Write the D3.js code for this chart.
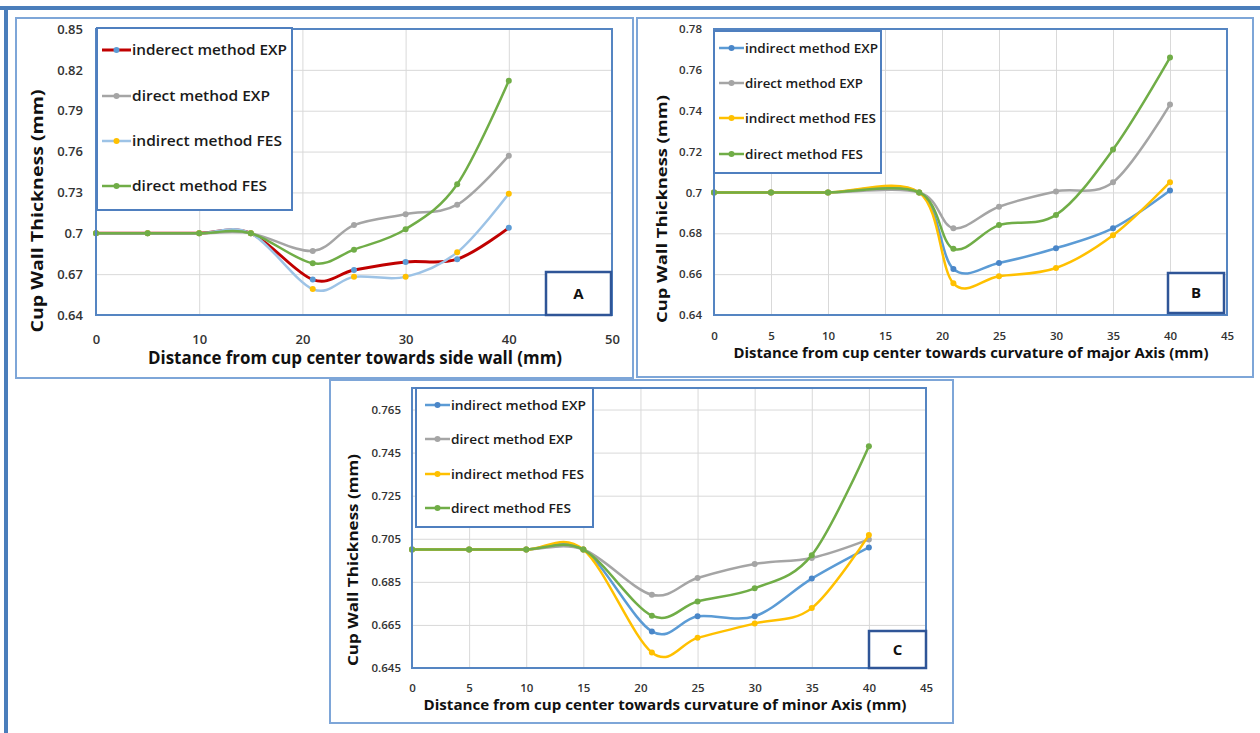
<!DOCTYPE html>
<html>
<head>
<meta charset="utf-8">
<script src="https://cdn.jsdelivr.net/npm/d3@7"></script>
<style>
  body { margin: 0; background: #fff; }
  text { font-family: "Open Sans", "Liberation Sans", sans-serif; }
</style>
</head>
<body>
<div id="chart-area"></div>
<script>
// distances from cup center (mm) where thickness was measured
const distA = [0, 5, 10, 15, 21, 25, 30, 35, 40];
const distB = [0, 5, 10, 18, 21, 25, 30, 35, 40];
const distC = [0, 5, 10, 15, 21, 25, 30, 35, 40];

const legendA = ["inderect method EXP", "direct method EXP", "indirect method FES", "direct method FES"];
const legendBC = ["indirect method EXP", "direct method EXP", "indirect method FES", "direct method FES"];

// panel A - towards side wall
const indirectExpA = [0.7, 0.7, 0.7, 0.7, 0.666, 0.673, 0.679, 0.681, 0.704];
const directExpA   = [0.7, 0.7, 0.7, 0.7, 0.687, 0.706, 0.714, 0.721, 0.757];
const indirectFesA = [0.7, 0.7, 0.7, 0.7, 0.659, 0.668, 0.668, 0.686, 0.729];
const directFesA   = [0.7, 0.7, 0.7, 0.7, 0.678, 0.688, 0.703, 0.736, 0.812];

// panel B - major axis
const indirectExpB = [0.7, 0.7, 0.7, 0.7, 0.6625, 0.6655, 0.6727, 0.6825, 0.701];
const directExpB   = [0.7, 0.7, 0.7, 0.7, 0.6825, 0.693, 0.7005, 0.705, 0.743];
const indirectFesB = [0.7, 0.7, 0.7, 0.7, 0.6555, 0.659, 0.663, 0.679, 0.705];
const directFesB   = [0.7, 0.7, 0.7, 0.7, 0.6724, 0.684, 0.689, 0.721, 0.766];

// panel C - minor axis
const indirectExpC = [0.7, 0.7, 0.7, 0.7, 0.662, 0.669, 0.669, 0.6865, 0.701];
const directExpC   = [0.7, 0.7, 0.7, 0.7, 0.679, 0.6868, 0.6933, 0.6961, 0.7047];
const indirectFesC = [0.7, 0.7, 0.7, 0.7, 0.6522, 0.659, 0.6657, 0.6728, 0.7067];
const directFesC   = [0.7, 0.7, 0.7, 0.7, 0.6693, 0.6759, 0.682, 0.6974, 0.748];

// tick labels
const xTicksA = [0, 10, 20, 30, 40, 50];
const xTicksBC = [0, 5, 10, 15, 20, 25, 30, 35, 40, 45];
const yTicksA = [0.64, 0.67, 0.7, 0.73, 0.76, 0.79, 0.82, 0.85];
const yTicksB = [0.64, 0.66, 0.68, 0.7, 0.72, 0.74, 0.76, 0.78];
const yTicksC = [0.645, 0.665, 0.685, 0.705, 0.725, 0.745, 0.765];

const svg = d3.select("#chart-area")
    .append("svg")
    .attr("width", 1260)
    .attr("height", 733);

// page frame (top and left blue rules)
svg.append("rect").attr("x", 0).attr("y", 6).attr("width", 1260).attr("height", 4).attr("fill", "#4a7ebb");
svg.append("rect").attr("x", 4).attr("y", 6).attr("width", 4).attr("height", 727).attr("fill", "#4a7ebb");

const curve = d3.curveCatmullRom.alpha(0);

function drawPanel(p) {
    const g = svg.append("g");

    g.append("rect")
        .attr("x", p.box[0]).attr("y", p.box[1])
        .attr("width", p.box[2]).attr("height", p.box[3])
        .attr("fill", "#fff").attr("stroke", "#7ea6d8").attr("stroke-width", 2);

    const x = d3.scaleLinear().domain(p.xDomain).range([p.plot.left, p.plot.right]);
    const y = d3.scaleLinear().domain(p.yDomain).range([p.plot.bottom, p.plot.top]);
    const h = p.plot.bottom - p.plot.top, w = p.plot.right - p.plot.left;

    // gridlines
    const gx = g.append("g")
        .attr("transform", "translate(0," + p.plot.bottom + ")")
        .call(d3.axisBottom(x).tickValues(p.xTicks).tickSize(-h).tickFormat(""));
    const gy = g.append("g")
        .attr("transform", "translate(" + p.plot.left + ",0)")
        .call(d3.axisLeft(y).tickValues(p.yTicks).tickSize(-w).tickFormat(""));
    [gx, gy].forEach(function(a) {
        a.select(".domain").remove();
        a.selectAll("line").attr("stroke", "#d9d9d9").attr("stroke-width", 1);
    });

    // tick labels
    const xl = g.append("g")
        .attr("transform", "translate(0," + (p.xLabelY - 0.36 * p.tickFont) + ")")
        .call(d3.axisBottom(x).tickValues(p.xTicks).tickSize(0).tickPadding(0));
    const yl = g.append("g")
        .attr("transform", "translate(" + p.yLabelRight + ",0)")
        .call(d3.axisLeft(y).tickValues(p.yTicks).tickSize(0).tickPadding(0)
            .tickFormat(function(d) { return String(d); }));
    [xl, yl].forEach(function(a) {
        a.select(".domain").remove();
        a.selectAll("text")
            .attr("font-family", "'Open Sans', sans-serif")
            .attr("font-size", p.tickFont)
            .attr("font-weight", 600)
            .attr("fill", "#333");
    });

    // series
    const line = d3.line()
        .x(function(d) { return x(d[0]); })
        .y(function(d) { return y(d[1]); })
        .curve(curve);

    p.series.forEach(function(s) {
        const pts = p.dist.map(function(d, i) { return [d, s.values[i]]; });
        g.append("path")
            .datum(pts)
            .attr("d", line)
            .attr("fill", "none")
            .attr("stroke", s.line)
            .attr("stroke-width", s.width)
            .attr("stroke-linejoin", "round");
        g.selectAll(null)
            .data(pts)
            .enter()
            .append("circle")
            .attr("cx", function(d) { return x(d[0]); })
            .attr("cy", function(d) { return y(d[1]); })
            .attr("r", 3)
            .attr("fill", s.marker);
    });

    // plot border
    g.append("rect")
        .attr("x", p.plot.left).attr("y", p.plot.top)
        .attr("width", w).attr("height", h)
        .attr("fill", "none").attr("stroke", "#5585c2").attr("stroke-width", 2);

    // legend
    const L = p.legend;
    g.append("rect")
        .attr("x", L.x).attr("y", L.y).attr("width", L.w).attr("height", L.h)
        .attr("fill", "#fff").attr("stroke", "#4f7fbf").attr("stroke-width", 2);
    p.series.forEach(function(s, i) {
        const ly = L.rows[i];
        g.append("line")
            .attr("x1", L.lineX0).attr("x2", L.lineX1)
            .attr("y1", ly).attr("y2", ly)
            .attr("stroke", s.line).attr("stroke-width", s.width);
        g.append("circle")
            .attr("cx", (L.lineX0 + L.lineX1) / 2).attr("cy", ly)
            .attr("r", 3).attr("fill", s.marker);
        g.append("text")
            .attr("x", L.lineX1 + 1).attr("y", ly).attr("dy", "0.35em")
            .attr("font-size", L.font).attr("font-weight", 600)
            .attr("textLength", L.textW[i]).attr("lengthAdjust", "spacingAndGlyphs")
            .attr("fill", "#1a1a1a")
            .text(s.name);
    });

    // panel letter
    const T = p.tag;
    g.append("rect")
        .attr("x", T.x).attr("y", T.y).attr("width", T.w).attr("height", T.h)
        .attr("fill", "#fff").attr("stroke", "#2f5597").attr("stroke-width", 2.5);
    g.append("text")
        .attr("x", T.x + T.w / 2).attr("y", T.y + T.h / 2).attr("dy", "0.35em")
        .attr("text-anchor", "middle").attr("font-size", 15).attr("font-weight", "bold")
        .attr("fill", "#111")
        .text(T.label);

    // axis titles
    g.append("text")
        .attr("transform", "translate(" + p.yTitle.x + "," + p.yTitle.y + ") rotate(-90)")
        .attr("dy", "0.35em")
        .attr("text-anchor", "middle")
        .attr("font-size", p.yTitle.font).attr("font-weight", "bold")
        .attr("textLength", p.yTitle.len).attr("lengthAdjust", "spacingAndGlyphs")
        .attr("fill", "#111")
        .text(p.yTitle.text);
    g.append("text")
        .attr("x", p.xTitle.x).attr("y", p.xTitle.y).attr("dy", "0.35em")
        .attr("text-anchor", "middle")
        .attr("font-size", p.xTitle.font).attr("font-weight", "bold")
        .attr("textLength", p.xTitle.len).attr("lengthAdjust", "spacingAndGlyphs")
        .attr("fill", "#111")
        .text(p.xTitle.text);
}

// Panel A
drawPanel({
    box: [16, 18, 617, 360],
    plot: { left: 96, right: 612, top: 29, bottom: 315 },
    xDomain: [0, 50], yDomain: [0.64, 0.85],
    xTicks: xTicksA, yTicks: yTicksA,
    xLabelY: 339, yLabelRight: 83, tickFont: 13,
    dist: distA,
    series: [
        { name: legendA[0], values: indirectExpA, line: "#c00000", marker: "#5b9bd5", width: 3 },
        { name: legendA[1], values: directExpA, line: "#a5a5a5", marker: "#a5a5a5", width: 2.5 },
        { name: legendA[2], values: indirectFesA, line: "#9dc3e6", marker: "#ffc000", width: 2.5 },
        { name: legendA[3], values: directFesA, line: "#70ad47", marker: "#70ad47", width: 2.5 }
    ],
    legend: { x: 97, y: 28, w: 195, h: 182, rows: [50, 96, 141, 186],
              lineX0: 102, lineX1: 131, font: 15, textW: [155, 138, 150, 135] },
    tag: { x: 546, y: 272, w: 65, h: 43, label: "A" },
    yTitle: { x: 37, y: 211, font: 16, len: 243, text: "Cup Wall  Thickness (mm)" },
    xTitle: { x: 355, y: 358, font: 17, len: 414, text: "Distance from cup center towards side wall (mm)" }
});

// Panel B
drawPanel({
    box: [637, 18, 616, 359],
    plot: { left: 714, right: 1227, top: 29, bottom: 315 },
    xDomain: [0, 45], yDomain: [0.64, 0.78],
    xTicks: xTicksBC, yTicks: yTicksB,
    xLabelY: 336, yLabelRight: 702, tickFont: 11.5,
    dist: distB,
    series: [
        { name: legendBC[0], values: indirectExpB, line: "#5b9bd5", marker: "#4a86c8", width: 2.5 },
        { name: legendBC[1], values: directExpB, line: "#a5a5a5", marker: "#a5a5a5", width: 2.5 },
        { name: legendBC[2], values: indirectFesB, line: "#ffc000", marker: "#ffc000", width: 2.5 },
        { name: legendBC[3], values: directFesB, line: "#70ad47", marker: "#70ad47", width: 2.5 }
    ],
    legend: { x: 714, y: 31, w: 167, h: 142, rows: [48, 83, 118, 154],
              lineX0: 719, lineX1: 744, font: 13, textW: [133, 118, 131, 118] },
    tag: { x: 1168, y: 273, w: 56, h: 40, label: "B" },
    yTitle: { x: 662, y: 209, font: 15, len: 228, text: "Cup Wall  Thickness (mm)" },
    xTitle: { x: 971, y: 353, font: 14.5, len: 475, text: "Distance from cup center towards curvature of major Axis (mm)" }
});

// Panel C
drawPanel({
    box: [330, 380, 623, 343],
    plot: { left: 412, right: 926, top: 388, bottom: 668 },
    xDomain: [0, 45], yDomain: [0.645, 0.775],
    xTicks: xTicksBC, yTicks: yTicksC,
    xLabelY: 688, yLabelRight: 401, tickFont: 11.5,
    dist: distC,
    series: [
        { name: legendBC[0], values: indirectExpC, line: "#5b9bd5", marker: "#4a86c8", width: 2.5 },
        { name: legendBC[1], values: directExpC, line: "#a5a5a5", marker: "#a5a5a5", width: 2.5 },
        { name: legendBC[2], values: indirectFesC, line: "#ffc000", marker: "#ffc000", width: 2.5 },
        { name: legendBC[3], values: directFesC, line: "#70ad47", marker: "#70ad47", width: 2.5 }
    ],
    legend: { x: 416, y: 388, w: 177, h: 139, rows: [405, 439, 474, 508],
              lineX0: 425, lineX1: 450, font: 13, textW: [135, 122, 133, 120] },
    tag: { x: 869, y: 631, w: 57, h: 37, label: "C" },
    yTitle: { x: 353, y: 560, font: 14, len: 212, text: "Cup Wall Thickness (mm)" },
    xTitle: { x: 665, y: 705, font: 14, len: 483, text: "Distance from cup center towards curvature of minor Axis (mm)" }
});
</script>
</body>
</html>
